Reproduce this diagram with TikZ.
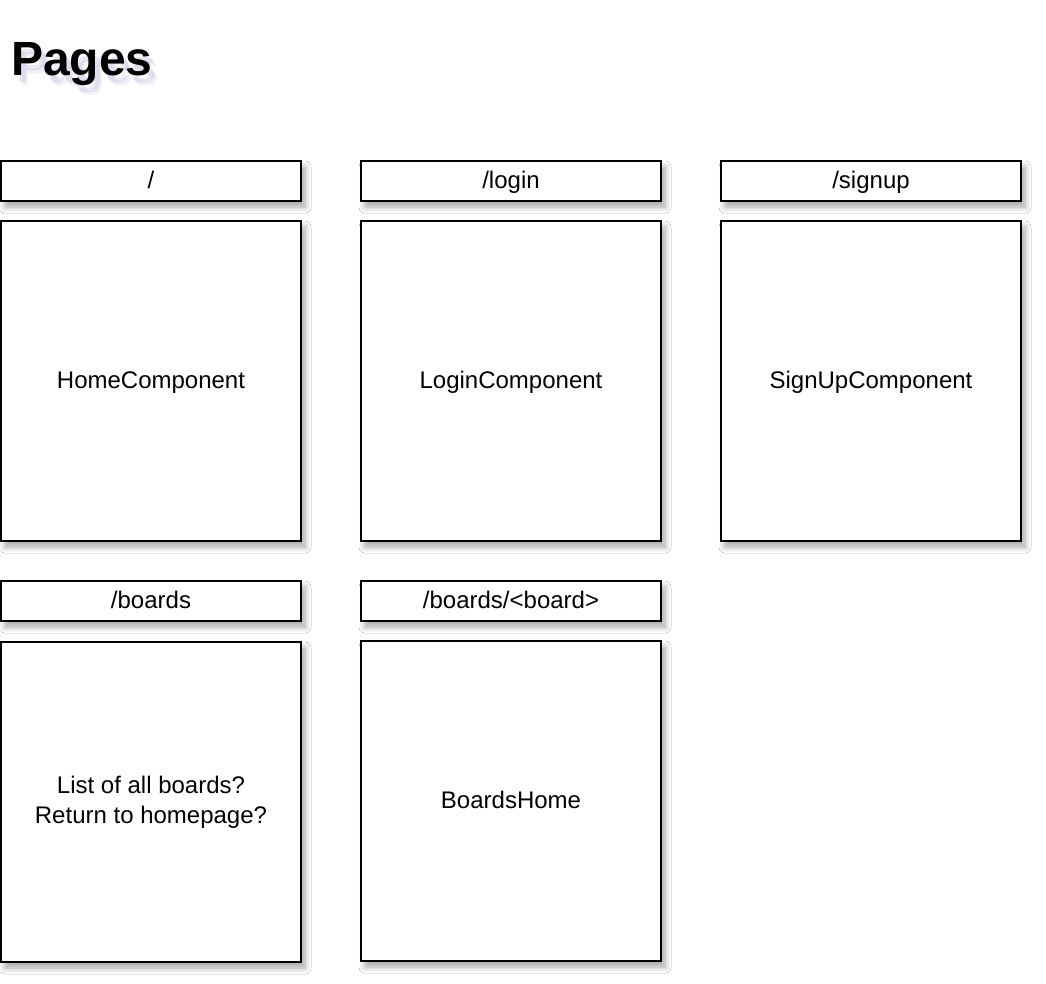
\documentclass[tikz,border=0pt]{standalone}
\usepackage{fontspec}
\setmainfont{Liberation Sans}
\usetikzlibrary{shadows.blur}
\definecolor{shade}{RGB}{120,124,190}
\tikzset{
  x=1pt, y=-1pt,
  sketchbox/.style={draw=black, line width=1.9pt, fill=white, inner sep=0pt,
    blur shadow={shadow xshift=4pt, shadow yshift=-6pt, shadow opacity=35,
      shadow blur radius=6pt, shadow blur steps=8}},
  routebox/.style={sketchbox, minimum width=300pt, minimum height=40pt,
    text height=17.2pt, text depth=2pt, font=\fontsize{24}{28}\selectfont},
  pagebox/.style={sketchbox, minimum width=300pt, minimum height=320pt,
    font=\fontsize{24}{30}\selectfont, align=center},
  oneline/.style={text height=17.2pt, text depth=2pt},
}
\begin{document}
\begin{tikzpicture}
\useasboundingbox[fill=white] (0,0) rectangle (1046,984);

% title with a soft drop shadow
\foreach \dx/\dy/\op in {5/7/0.16, 7/10/0.10}
  \node[anchor=base west, text=shade, opacity=\op, inner sep=0pt,
    font=\bfseries\fontsize{48}{54}\selectfont] at (11+\dx,76+\dy) {Pages};
\node[anchor=base west, inner sep=0pt, font=\bfseries\fontsize{48}{54}\selectfont]
  (title) at (11,76) {Pages};

% first row of routes
\node[routebox] (rHome)   at (151,181) {/};
\node[routebox] (rLogin)  at (511,181) {/login};
\node[routebox] (rSignup) at (871,181) {/signup};
\node[pagebox, oneline]  (pHome)   at (151,381) {HomeComponent};
\node[pagebox, oneline]  (pLogin)  at (511,381) {LoginComponent};
\node[pagebox, oneline]  (pSignup) at (871,381) {SignUpComponent};

% second row of routes
\node[routebox] (rBoards) at (151,601) {/boards};
\node[routebox] (rBoard)  at (511,601) {/boards/<board>};
\node[pagebox]  (pBoards) at (151,802) {List of all boards?\\Return to homepage?};
\node[pagebox, oneline]  (pBoard)  at (511,801) {BoardsHome};
\end{tikzpicture}
\end{document}
